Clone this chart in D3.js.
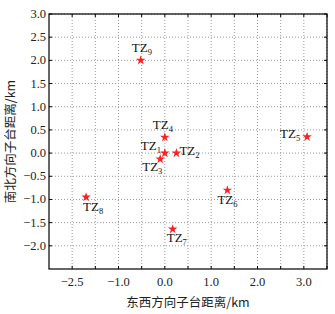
<!DOCTYPE html>
<html lang="zh">
<head>
  <meta charset="UTF-8">
  <title>子台分布</title>
  <script src="https://d3js.org/d3.v7.min.js"></script>
  <style>
    body { margin: 0; padding: 0; background: #fff; }
    svg text { font-family: "Liberation Serif", "DejaVu Serif", serif; }
    .cjk { font-family: "Noto Sans CJK SC", sans-serif; }
  </style>
</head>
<body>
  <svg id="chart" width="335" height="314"></svg>
  <script>
    // stations
    const stationIds = ["1", "2", "3", "4", "5", "6", "7", "8", "9"];
    const eastWest = [0.0, 0.25, -0.1, 0.0, 3.07, 1.35, 0.17, -1.7, -0.52];
    const northSouth = [0.0, 0.0, -0.13, 0.34, 0.35, -0.8, -1.64, -0.95, 2.0];

    // label placement relative to the star (pixels)
    const labelDx = [-24, 3, -18, -12, -27, -10, -6, -3, -9];
    const labelDy = [-3, 2, 12, -8, 1, 14, 13, 14, -8];

    const xTicks = [-2, -1, 0, 1, 2, 3];
    const xTickLabels = ["−2.5", "−1.0", "0.0", "1.0", "2.0", "3.0"];
    const yTicks = [3, 2.5, 2, 1.5, 1, 0.5, 0, -0.5, -1, -1.5, -2];
    const yTickLabels = ["3.0", "2.5", "2.0", "1.5", "1.0", "0.5", "0.0", "−0.5", "−1.0", "−1.5", "−2.0"];

    const svg = d3.select("#chart");
    const pl = 49, pr = 327, pt = 14, pb = 269;

    const x = d3.scaleLinear().domain([-2.5, 3.5]).range([pl, pr]);
    const y = d3.scaleLinear().domain([-2.5, 3.0]).range([pb, pt]);

    const gridX = d3.range(-2, 3.51, 0.5);
    const gridY = d3.range(-2, 3.01, 0.5);

    // grid
    svg.append("g").selectAll("line").data(gridX).join("line")
      .attr("x1", d => x(d)).attr("x2", d => x(d))
      .attr("y1", pt).attr("y2", pb)
      .attr("stroke", "#999").attr("stroke-width", 1).attr("stroke-dasharray", "1,2");
    svg.append("g").selectAll("line").data(gridY).join("line")
      .attr("x1", pl).attr("x2", pr)
      .attr("y1", d => y(d)).attr("y2", d => y(d))
      .attr("stroke", "#999").attr("stroke-width", 1).attr("stroke-dasharray", "1,2");

    // inward ticks on all sides
    const tl = 3;
    svg.append("g").selectAll("line").data(gridX).join("line")
      .attr("x1", d => x(d)).attr("x2", d => x(d)).attr("y1", pb).attr("y2", pb - tl)
      .attr("stroke", "#000");
    svg.append("g").selectAll("line").data(gridX).join("line")
      .attr("x1", d => x(d)).attr("x2", d => x(d)).attr("y1", pt).attr("y2", pt + tl)
      .attr("stroke", "#000");
    svg.append("g").selectAll("line").data(gridY).join("line")
      .attr("x1", pl).attr("x2", pl + tl).attr("y1", d => y(d)).attr("y2", d => y(d))
      .attr("stroke", "#000");
    svg.append("g").selectAll("line").data(gridY).join("line")
      .attr("x1", pr).attr("x2", pr - tl).attr("y1", d => y(d)).attr("y2", d => y(d))
      .attr("stroke", "#000");

    // frame
    svg.append("rect")
      .attr("x", pl).attr("y", pt)
      .attr("width", pr - pl).attr("height", pb - pt)
      .attr("fill", "none").attr("stroke", "#000").attr("stroke-width", 1.2);

    // tick labels
    svg.append("g").selectAll("text").data(xTicks).join("text")
      .attr("x", d => x(d)).attr("y", pb + 17)
      .attr("text-anchor", "middle").attr("font-size", 12.5).attr("fill", "#222")
      .text((d, i) => xTickLabels[i]);
    svg.append("g").selectAll("text").data(yTicks).join("text")
      .attr("x", pl - 3).attr("y", d => y(d) + 4)
      .attr("text-anchor", "end").attr("font-size", 12.5).attr("fill", "#222")
      .text((d, i) => yTickLabels[i]);

    // axis titles
    svg.append("text").attr("class", "cjk")
      .attr("x", (pl + pr) / 2).attr("y", 307)
      .attr("text-anchor", "middle").attr("font-size", 12.5).attr("fill", "#222")
      .text("东西方向子台距离/km");
    svg.append("text").attr("class", "cjk")
      .attr("transform", `translate(15,${(pt + pb) / 2}) rotate(-90)`)
      .attr("text-anchor", "middle").attr("font-size", 12.5).attr("fill", "#222")
      .text("南北方向子台距离/km");

    // stars
    const star = d3.symbol().type(d3.symbolStar).size(28);
    svg.append("g").selectAll("path").data(stationIds).join("path")
      .attr("transform", (d, i) => `translate(${x(eastWest[i])},${y(northSouth[i])})`)
      .attr("d", star)
      .attr("fill", "#ff2020");

    // labels
    const lab = svg.append("g").selectAll("text").data(stationIds).join("text")
      .attr("x", (d, i) => x(eastWest[i]) + labelDx[i])
      .attr("y", (d, i) => y(northSouth[i]) + labelDy[i])
      .attr("font-size", 13).attr("fill", "#111");
    lab.append("tspan").text("TZ");
    lab.append("tspan").attr("font-size", 8.5).attr("dy", 3).text(d => d);
  </script>
</body>
</html>
